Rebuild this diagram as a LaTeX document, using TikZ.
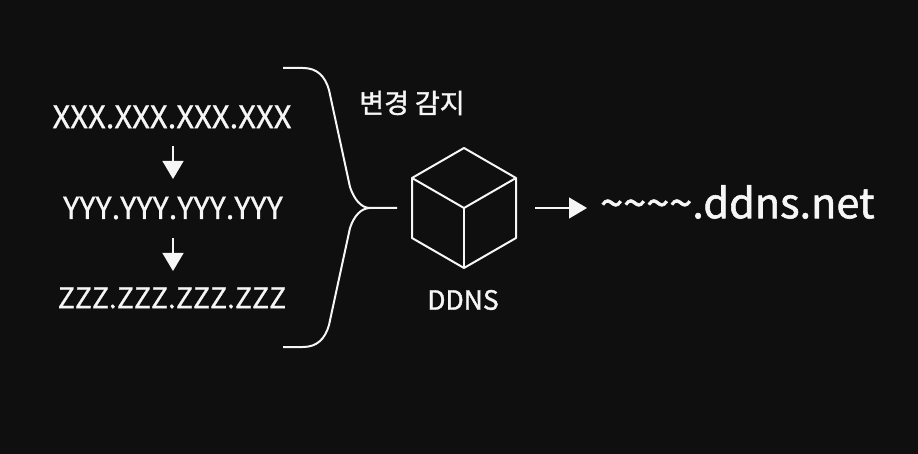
\documentclass[tikz,border=0pt]{standalone}
\usepackage{fontspec}
\setmainfont{Noto Sans CJK KR}
\newfontfamily\medf[FakeBold=1.4]{Noto Sans CJK KR}
\newfontfamily\ipf[FakeBold=0.8,Kerning=Off]{Noto Sans CJK KR}
\usetikzlibrary{arrows.meta}
\definecolor{bgc}{HTML}{0F0F0F}
\definecolor{ink}{HTML}{F6F6F6}
\tikzset{
  lbl/.style={text=ink,inner sep=0pt,anchor=center},
  ipaddr/.style={lbl},
  line/.style={draw=ink,line width=2pt,line join=round},
  arr/.style={draw=ink,line width=1.3pt,-{Triangle[width=21pt,length=18pt,fill=ink]}},
}
\begin{document}
\begin{tikzpicture}[x=1pt,y=-1pt]
\useasboundingbox (0,0) rectangle (918,454);
\fill[bgc] (0,0) rectangle (918,454);
\node[ipaddr,font=\ipf\fontsize{31}{31}\selectfont] (x) at (172,117) {XXX.XXX.XXX.XXX};
\node[ipaddr,font=\ipf\fontsize{30.5}{31}\selectfont] (y) at (173,208) {YYY.YYY.YYY.YYY};
\node[ipaddr,font=\ipf\fontsize{28.3}{29}\selectfont] (z) at (172,298) {ZZZ.ZZZ.ZZZ.ZZZ};
\coordinate (a1s) at (173,146);
\coordinate (a1e) at (173,179);
\coordinate (a2s) at (173,238);
\coordinate (a2e) at (173,271);
\draw[arr] (a1s) -- (a1e);
\draw[arr] (a2s) -- (a2e);
\coordinate (bt) at (283,68);
\coordinate (bb) at (283,347);
\coordinate (bm) at (370,208);
\coordinate (be) at (397,208);
\draw[line] (bt) -- (303,68) .. controls (317,68) and (325,76) .. (329,90)
  -- (350,187) .. controls (354,199) and (361,208) .. (bm);
\draw[line] (bb) -- (303,347) .. controls (317,347) and (325,339) .. (329,325)
  -- (350,228) .. controls (354,216) and (361,208) .. (bm) -- (be);
\node[lbl,font=\medf\fontsize{27}{27}\selectfont] (chg) at (412,103) {변경 감지};
\coordinate (ct) at (464,148);
\coordinate (cr) at (516,178);
\coordinate (crb) at (516,238);
\coordinate (cb) at (464,268);
\coordinate (clb) at (412,238);
\coordinate (cl) at (412,178);
\coordinate (cc) at (464,208);
\draw[line] (ct) -- (cr) -- (crb) -- (cb) -- (clb) -- (cl) -- cycle;
\draw[line] (cl) -- (cc) -- (cr);
\draw[line] (cc) -- (cb);
\node[lbl,font=\medf\fontsize{26.5}{27}\selectfont] (ddns) at (463,300) {DDNS};
\coordinate (a3s) at (535,208);
\coordinate (a3e) at (587,208);
\draw[arr] (a3s) -- (a3e);
\node[lbl,font=\medf\fontsize{41.5}{42}\selectfont,anchor=west] (url) at (600,202) {\textasciitilde\textasciitilde\textasciitilde\textasciitilde.ddns.net};
\end{tikzpicture}
\end{document}
